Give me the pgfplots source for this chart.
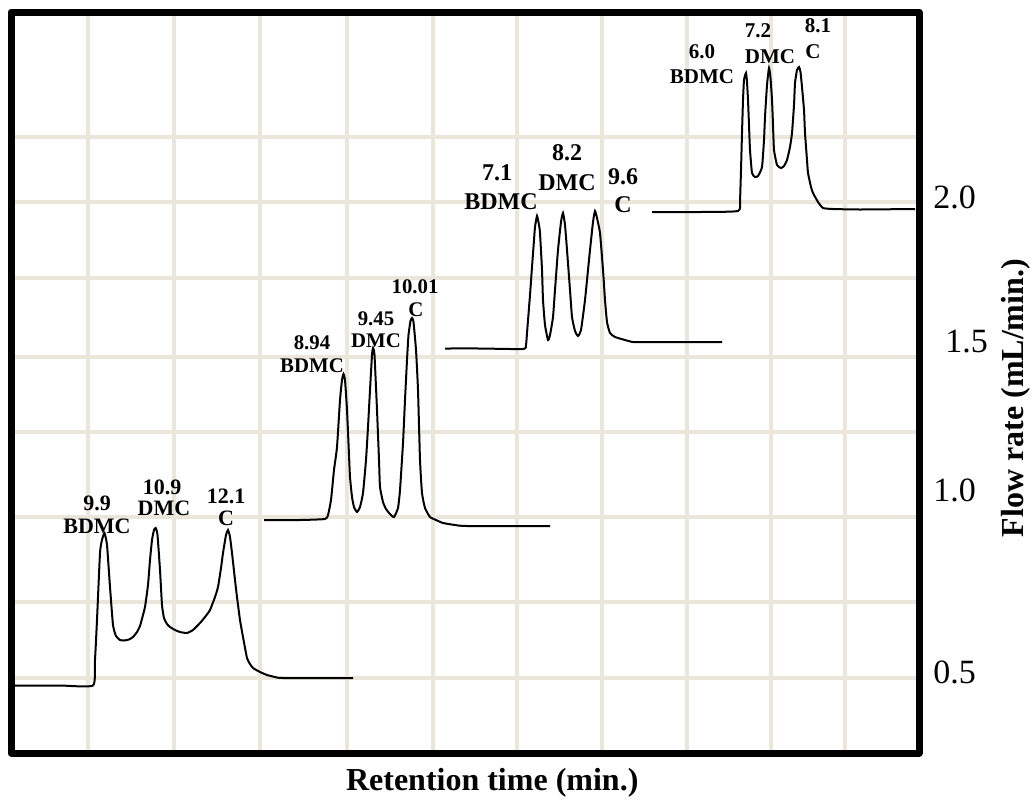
\documentclass[border=0pt]{standalone}
\usepackage{fontspec}
\setmainfont{Liberation Serif}
\usepackage{pgfplots}
\pgfplotsset{compat=1.18}
\definecolor{gridc}{RGB}{234,231,218}

\begin{document}
\begin{tikzpicture}
\begin{axis}[
  scale only axis,
  width=454pt, height=370.5pt,
  xmin=11, xmax=919, ymin=12, ymax=753,
  y dir=reverse,
  clip=false,
  axis line style={line width=3.5pt, line join=round},
  xtick={88,174,260,347,433,517,602,687,771,845},
  ytick={137,202,278,357,432,517,602,678},
  xticklabels={,,,,,,,,,},
  yticklabels={,,,,,,,},
  major tick length=0pt,
  grid=major,
  grid style={line width=2.2pt, draw=gridc},
  major grid style={line width=2.2pt, draw=gridc},
  yticklabel pos=right,
  extra y ticks={197,342,490,672},
  extra y tick labels={\textnormal{2.0},\hspace*{6pt}\textnormal{1.5},\textnormal{1.0},\textnormal{0.5}},
  extra y tick style={grid=none, yticklabel style={anchor=west, inner sep=0pt, xshift=7pt, font=\fontsize{17}{17}\selectfont}},
  every axis x label/.style={at={(axis description cs:0.53,0)}, anchor=center, yshift=-15pt},
  every axis y label/.style={at={(axis description cs:1.107,0.479)}, rotate=90, anchor=center},
  label style={font=\bfseries\fontsize{16}{16}\selectfont},
  xlabel={Retention time (min.)},
  ylabel={Flow rate (mL/min.)},
]
% flow rate 0.5
\addplot[black, line width=1pt, smooth, tension=0.3] coordinates {
(15,685.5) (60,685.5) (93,685.5) (95,660) (97,620) (100,553) (102,540) (104.5,533) (107,545) (110,587) (113,625) (116,636) (120,640) (124,640.5) (129,639.5) (133,637) (137,632) (140,626) (143,615) (145,607) (148,585) (150,560) (152,540) (154,530) (155.7,528) (157.5,535) (160,570) (162,605) (164,618) (167,624) (170,627) (175,630) (180,632) (187,633) (193,630) (200,623) (205,617) (210,610) (215,597) (218,587) (221,568) (223,553) (226,535) (228,530) (230,537) (232,553) (235,580) (237,597) (240,620) (243,637) (247,658) (250,664) (253,668) (260,672) (267,675) (275,677) (283,678) (353,678)
};
% flow rate 1.0
\addplot[black, line width=1pt, smooth, tension=0.3] coordinates {
(264,520) (300,520) (325,519) (328,515) (331,500) (334,470) (337,447) (340,400) (342,380) (343.5,374) (345,380) (347,410) (349,455) (350,477) (352,497) (354,507) (357,512) (360,507) (363,493) (366,460) (368,427) (370,390) (372,355) (373,348) (374.5,355) (377,410) (379,460) (380,487) (383,502) (386,509) (390,514) (394,517) (398,508) (400,490) (403,443) (405,400) (407,360) (408.5,335) (410.5,321) (412,318) (413.5,322) (416,350) (418,390) (420,460) (422,493) (425,508) (430,517) (436,520) (443,523) (455,525) (467,526) (550,526)
};
% flow rate 1.5
\addplot[black, line width=1pt, smooth, tension=0.3] coordinates {
(445,348.5) (480,348.5) (523,349) (526,345) (527,333) (530,295) (532,267) (534,240) (535,227) (537,216) (539,225) (540,233) (542,270) (543,300) (545,325) (548,340) (550,335) (553,317) (555,290) (558,250) (561,222) (563,213) (565,225) (567,250) (570,290) (572,317) (575,331) (578,336) (581,330) (585,300) (588,270) (590,250) (593,222) (595,211) (597,218) (600,233) (603,270) (605,300) (607,322) (610,333) (615,337) (625,340) (633,342) (650,342) (722,342)
};
% flow rate 2.0
\addplot[black, line width=1pt, smooth, tension=0.3] coordinates {
(652,212) (700,212) (738,211) (740,200) (741,170) (742,133) (743,100) (744,80) (746,73) (747,82) (748,100) (749,125) (750,150) (752,173) (755,177) (758,176) (762,167) (764,140) (765,117) (767,85) (769,68) (770.5,78) (772,100) (773,125) (774,150) (777,165) (781,168) (784,166) (787,160) (790,147) (792,133) (794,105) (795,83) (797,70) (799,67) (800.5,72) (802,87) (804,110) (805,133) (807,160) (808,173) (811,187) (813,193) (818,202) (823,208) (833,209) (860,209.5) (915,209)
};
% peak labels
\begin{scope}[every node/.style={inner sep=0pt, font=\bfseries\fontsize{11}{11}\selectfont}]
\node at (axis cs:97,503) {9.9};
\node at (axis cs:97,526) {BDMC};
\node at (axis cs:162,487) {10.9};
\node at (axis cs:164,508) {DMC};
\node at (axis cs:226,496) {12.1};
\node at (axis cs:226,518) {C};
\end{scope}
\begin{scope}[every node/.style={inner sep=0pt, font=\bfseries\fontsize{10.4}{10.4}\selectfont}]
\node at (axis cs:312,343) {8.94};
\node at (axis cs:312,366) {BDMC};
\node at (axis cs:376,319) {9.45};
\node at (axis cs:376,341) {DMC};
\node at (axis cs:415,287) {10.01};
\node at (axis cs:416,310) {C};
\end{scope}
\begin{scope}[every node/.style={inner sep=0pt, font=\bfseries\fontsize{12}{12}\selectfont}]
\node at (axis cs:497,173) {7.1};
\node at (axis cs:501,202) {BDMC};
\node at (axis cs:567,153) {8.2};
\node at (axis cs:567,183) {DMC};
\node at (axis cs:623,177) {9.6};
\node at (axis cs:623,205) {C};
\end{scope}
\begin{scope}[every node/.style={inner sep=0pt, font=\bfseries\fontsize{10.5}{10.5}\selectfont}]
\node at (axis cs:702,52) {6.0};
\node at (axis cs:702,77) {BDMC};
\node at (axis cs:758,31) {7.2};
\node at (axis cs:770,57) {DMC};
\node at (axis cs:818,26) {8.1};
\node at (axis cs:813,52) {C};
\end{scope}
\coordinate (bbA) at (axis cs:0,0);
\coordinate (bbB) at (axis cs:1033,809);
\end{axis}
\pgfresetboundingbox
\path[use as bounding box] (bbA) rectangle (bbB);
\end{tikzpicture}
\end{document}
